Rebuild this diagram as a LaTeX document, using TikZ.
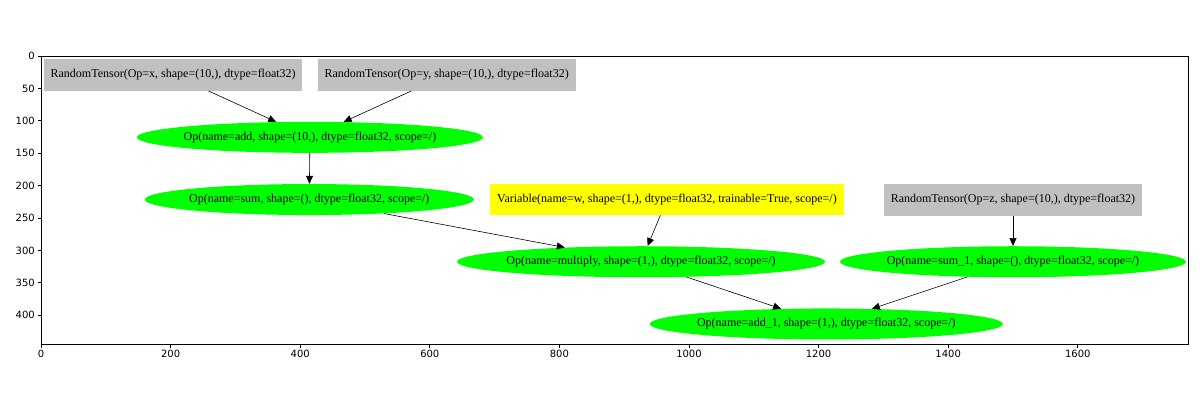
\documentclass[tikz,border=0pt]{standalone}
\usepackage{fontspec}
\setmainfont{Liberation Serif}
\newfontfamily\tickfont{DejaVu Sans}
\usetikzlibrary{arrows.meta, shapes.geometric}

\definecolor{tensorgray}{HTML}{C0C0C0}
\definecolor{opgreen}{HTML}{00FF00}
\definecolor{varyellow}{HTML}{FFFF00}

\tikzset{
  graphtext/.style={font=\fontsize{12}{14}\selectfont},
  tensorbox/.style={graphtext, rectangle, fill=tensorgray, inner sep=0pt, minimum width=258pt, minimum height=32pt},
  varbox/.style={graphtext, rectangle, fill=varyellow, inner sep=0pt, minimum width=354pt, minimum height=31pt},
  opnode/.style={graphtext, ellipse, fill=opgreen, inner sep=0pt, minimum height=31pt},
  edge/.style={->, line width=0.6pt},
  ticklabel/.style={font=\tickfont\fontsize{10}{12}\selectfont, inner sep=2pt}
}

\begin{document}
\begin{tikzpicture}[x=1pt, y=-1pt, >={Triangle[length=8pt, width=7pt]}]
  \useasboundingbox (0,0) rectangle (1200,400);
  \begin{scope}[shift={(41pt,-56pt)}, x=0.648pt, y=-0.648pt]
    % Nodes
    \node[tensorbox] (randx) at (204,29) {RandomTensor(Op=x, shape=(10,), dtype=float32)};
    \node[tensorbox] (randy) at (626,29) {RandomTensor(Op=y, shape=(10,), dtype=float32)};
    \node[opnode, minimum width=346pt] (add) at (415,125.5) {\makebox[0pt]{Op(name=add, shape=(10,), dtype=float32, scope=/)}};
    \node[opnode, minimum width=329pt] (sum) at (414,221.5) {\makebox[0pt]{Op(name=sum, shape=(), dtype=float32, scope=/)}};
    \node[varbox] (varw) at (966,221.5) {Variable(name=w, shape=(1,), dtype=float32, trainable=True, scope=/)};
    \node[tensorbox] (randz) at (1500,221.5) {RandomTensor(Op=z, shape=(10,), dtype=float32)};
    \node[opnode, minimum width=368pt] (mult) at (926,317.5) {\makebox[0pt]{Op(name=multiply, shape=(1,), dtype=float32, scope=/)}};
    \node[opnode, minimum width=346pt] (sumone) at (1500,317.5) {\makebox[0pt]{Op(name=sum\_1, shape=(), dtype=float32, scope=/)}};
    \node[opnode, minimum width=353pt] (addone) at (1212,413.5) {\makebox[0pt]{Op(name=add\_1, shape=(1,), dtype=float32, scope=/)}};
    % Edges
    \draw[edge] (randx) -- (add);
    \draw[edge] (randy) -- (add);
    \draw[edge] (add) -- (sum);
    \draw[edge] (sum) -- (mult);
    \draw[edge] (varw) -- (mult);
    \draw[edge] (randz) -- (sumone);
    \draw[edge] (mult) -- (addone);
    \draw[edge] (sumone) -- (addone);
    % Axes
    \draw[line width=0.8pt] (0,0) rectangle (1770,445);
    \foreach \t in {0,200,...,1600} {
      \draw[line width=0.8pt] (\t,445) -- ++(0pt,-3.5pt);
      \node[ticklabel, below=4pt] at (\t,445) {\t};
    }
    \foreach \t in {0,50,...,400} {
      \draw[line width=0.8pt] (0,\t) -- ++(-3.5pt,0pt);
      \node[ticklabel, left=4pt] at (0,\t) {\t};
    }
  \end{scope}
\end{tikzpicture}
\end{document}
